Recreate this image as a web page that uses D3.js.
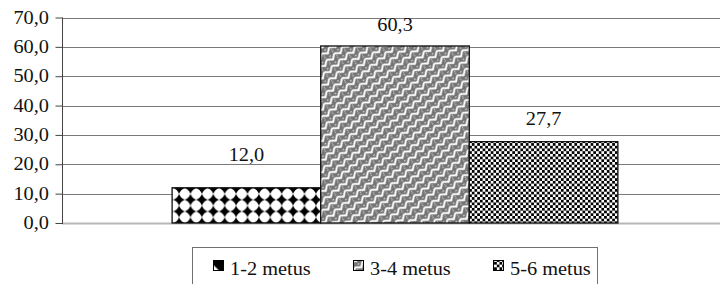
<!DOCTYPE html>
<html>
<head>
<meta charset="utf-8">
<script src="https://d3js.org/d3.v7.min.js"></script>
<style>
  body { margin: 0; background: #fff; }
  text { font-family: "Liberation Serif", "Times New Roman", serif; fill: #111; }
</style>
</head>
<body>
<script>
// data
var categories = [""];
var seriesNames = ["1-2 metus", "3-4 metus", "5-6 metus"];
var seriesValues = [12.0, 60.3, 27.7];
var yTicks = [0, 10, 20, 30, 40, 50, 60, 70];

var W = 720, H = 284;
var fontSize = 18, stretch = 1.13;

var svg = d3.select("body").append("svg")
    .attr("width", W).attr("height", H);

var defs = svg.append("defs");

// diamonds (4 point stars touching at the tips)
var dw = 11.4, dh = 11.7;
var p1 = defs.append("pattern").attr("id", "pat0")
    .attr("patternUnits", "userSpaceOnUse")
    .attr("width", dw).attr("height", dh)
    .attr("x", 172.3).attr("y", 182.2);
p1.append("rect").attr("width", dw).attr("height", dh).attr("fill", "#fff");
p1.append("path")
    .attr("d", "M5.7,0 Q7.3,4.3 11.4,5.85 Q7.3,7.4 5.7,11.7 Q4.1,7.4 0,5.85 Q4.1,4.3 5.7,0 Z")
    .attr("fill", "#000");

// legend swatch for the diamonds: mostly dark with a light corner
var s1 = defs.append("pattern").attr("id", "sw0")
    .attr("patternContentUnits", "objectBoundingBox")
    .attr("width", 1).attr("height", 1);
s1.append("rect").attr("width", 1).attr("height", 1).attr("fill", "#000");
s1.append("path").attr("d", "M0,0.45 L0.55,1 L0,1 Z").attr("fill", "#fff");

// weave / zigzag
var p2 = defs.append("pattern").attr("id", "pat1")
    .attr("patternUnits", "userSpaceOnUse")
    .attr("width", 10).attr("height", 8)
    .attr("patternTransform", "rotate(-40)");
p2.append("rect").attr("width", 10).attr("height", 8).attr("fill", "#747474");
p2.append("path").attr("d", "M0,1 L5,5 L10,1 M-1,6 L0,7 M10,7 L11,6")
    .attr("stroke", "#fff").attr("stroke-width", 2).attr("fill", "none");
p2.append("path").attr("d", "M5,0 L5,1.3 M0,4 L0,5")
    .attr("stroke", "#fff").attr("stroke-width", 1.2).attr("fill", "none");

// small checker
var p3 = defs.append("pattern").attr("id", "pat2")
    .attr("patternUnits", "userSpaceOnUse")
    .attr("width", 5.4).attr("height", 5.4);
p3.append("rect").attr("width", 5.4).attr("height", 5.4).attr("fill", "#fff");
p3.append("rect").attr("width", 2.7).attr("height", 2.7).attr("fill", "#000");
p3.append("rect").attr("x", 2.7).attr("y", 2.7).attr("width", 2.7).attr("height", 2.7).attr("fill", "#000");

var plotL = 62, plotR = 728, plotT = 17.5, plotB = 223;

var y = d3.scaleLinear().domain([0, 70]).range([plotB, plotT]);
var x0 = d3.scaleBand().domain(categories).range([plotL, plotR])
    .paddingInner(0).paddingOuter(0.247);
var x1 = d3.scaleBand().domain(seriesNames).range([0, x0.bandwidth()]).padding(0);

var fmt = function (v) { return d3.format(".1f")(v).replace(".", ","); };

function stretchedText(g, tx, ty, str, anchor) {
    return g.append("g").attr("transform", "translate(" + tx + "," + ty + ") scale(" + stretch + ",1)")
        .append("text").attr("text-anchor", anchor || "start")
        .attr("font-size", fontSize).text(str);
}

// gridlines
svg.append("g").selectAll("line").data(yTicks).join("line")
    .attr("x1", plotL).attr("x2", W)
    .attr("y1", d => Math.round(y(d)) + 0.5).attr("y2", d => Math.round(y(d)) + 0.5)
    .attr("stroke", d => d === 0 ? "#b8b8b8" : "#7a7a7a")
    .attr("stroke-width", d => d === 0 ? 2 : 1);

// y axis
var yAxis = d3.axisLeft(y).tickValues(yTicks).tickSize(7).tickFormat("");
var ga = svg.append("g").attr("transform", "translate(" + (plotL + 0.5) + ",0)").call(yAxis);
ga.select(".domain").attr("stroke", "#444").attr("d", "M0," + y(70) + "V" + (plotB + 1));
ga.selectAll(".tick line").attr("stroke", "#444");
yTicks.forEach(function (t) {
    stretchedText(svg, 49, y(t) + 6, fmt(t), "end");
});

// bars
var bars = svg.append("g").selectAll("g").data(categories).join("g")
    .attr("transform", d => "translate(" + x0(d) + ",0)");
var labelLift = [33, 21, 23];
seriesNames.forEach(function (s, i) {
    var v = seriesValues[i];
    bars.append("rect")
        .attr("x", x1(s)).attr("y", y(v))
        .attr("width", x1.bandwidth()).attr("height", y(0) - y(v))
        .attr("fill", "url(#pat" + i + ")")
        .attr("stroke", "#111").attr("stroke-width", 1.3);
    stretchedText(bars, x1(s) + x1.bandwidth() / 2, y(v) - labelLift[i] + 6, fmt(v), "middle");
});

// legend
var lg = svg.append("g");
lg.append("rect").attr("x", 192.5).attr("y", 247.5).attr("width", 405).attr("height", 50)
    .attr("fill", "#fff").attr("stroke", "#707070");
var legendX = d3.scalePoint().domain(seriesNames).range([213, 493]);
seriesNames.forEach(function (s, i) {
    lg.append("rect").attr("x", legendX(s) + 0.5).attr("y", 260.5)
        .attr("width", 10).attr("height", 10)
        .attr("fill", i === 0 ? "url(#sw0)" : "url(#pat" + i + ")").attr("stroke", "#000");
    stretchedText(lg, legendX(s) + 17, 275, s, "start");
});
</script>
</body>
</html>
